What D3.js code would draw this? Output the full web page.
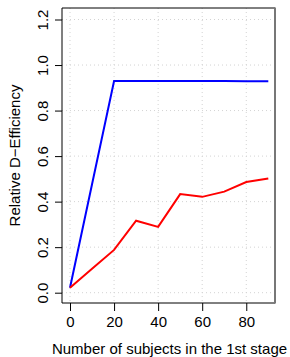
<!DOCTYPE html>
<html>
<head>
<meta charset="utf-8">
<script src="https://cdn.jsdelivr.net/npm/d3@7"></script>
<style>
  html,body{margin:0;padding:0;background:#fff;}
  text{font-family:"Liberation Sans",Arial,Helvetica,sans-serif;fill:#000;}
</style>
</head>
<body>
<div id="chart"></div>
<script>
/* relative D-efficiency vs size of first stage */

/* ---------- DATA ---------- */
const subjects=[0,10,20,30,40,50,60,70,80,90];
const blueEff=[0.022,0.476,0.930,0.930,0.930,0.930,0.930,0.930,0.929,0.929];
const redEff=[0.022,0.105,0.188,0.316,0.289,0.433,0.421,0.444,0.486,0.502];
const xTicks=[0,20,40,60,80];
const yTicks=[0,0.2,0.4,0.6,0.8,1.0,1.2];
const X_TITLE="Number of subjects in the 1st stage";
const Y_TITLE="Relative D\u2212Efficiency";

/* ---------- CONFIG ---------- */
const W=290,H=357;
const BOX={l:62,t:8,r:275,b:303};
const FS=15;

const svg=d3.select("#chart").append("svg").attr("width",W).attr("height",H);

const x=d3.scaleLinear().domain([0,90]).range([70,268.3]);
const y=d3.scaleLinear().domain([0,1.2]).range([292.7,19.5]);

/* grid */
const grid=svg.append("g").attr("stroke","#d3d3d3").attr("stroke-width",1)
  .attr("stroke-dasharray","1,3").attr("fill","none");
xTicks.forEach(t=>grid.append("line").attr("x1",x(t)).attr("x2",x(t))
  .attr("y1",BOX.t).attr("y2",BOX.b));
yTicks.forEach(t=>grid.append("line").attr("x1",BOX.l).attr("x2",BOX.r)
  .attr("y1",y(t)).attr("y2",y(t)));

/* lines */
const line=d3.line().x((d,i)=>x(subjects[i])).y(d=>y(d));
svg.append("path").datum(blueEff).attr("d",line)
  .attr("fill","none").attr("stroke","#0000ff").attr("stroke-width",2);
svg.append("path").datum(redEff).attr("d",line)
  .attr("fill","none").attr("stroke","#ff0000").attr("stroke-width",2);

/* box */
svg.append("path")
  .attr("d",`M${BOX.r},${BOX.t}H${BOX.l}V${BOX.b}H${BOX.r}`)
  .attr("fill","none").attr("stroke","#000").attr("stroke-width",1);
svg.append("line").attr("x1",BOX.r).attr("x2",BOX.r).attr("y1",BOX.t-0.5).attr("y2",BOX.b+0.5)
  .attr("stroke","#777").attr("stroke-width",2);

/* axes */
const xAx=svg.append("g").attr("transform",`translate(0,${BOX.b})`)
  .call(d3.axisBottom(x).tickValues(xTicks).tickSize(8).tickPadding(5).tickFormat(d3.format("d")));
xAx.select(".domain").remove();
xAx.selectAll("text").style("font-size",FS+"px").attr("fill","#000");

const yAx=svg.append("g").attr("transform",`translate(${BOX.l},0)`)
  .call(d3.axisLeft(y).tickValues(yTicks).tickSize(7).tickFormat(d3.format(".1f")));
yAx.select(".domain").remove();
yAx.selectAll("text").style("font-size",FS+"px").attr("fill","#000")
  .attr("x",0).attr("dy",0)
  .attr("text-anchor","middle")
  .attr("transform","translate(-20,0) rotate(-90)")
  .attr("dominant-baseline","central");

/* titles */
svg.append("text").attr("x",(BOX.l+BOX.r)/2+1).attr("y",354)
  .attr("text-anchor","middle").style("font-size",FS+"px").text(X_TITLE);
svg.append("text").attr("transform",`translate(20,${(BOX.t+BOX.b)/2}) rotate(-90)`)
  .attr("text-anchor","middle").style("font-size",FS+"px").text(Y_TITLE);
</script>
</body>
</html>
